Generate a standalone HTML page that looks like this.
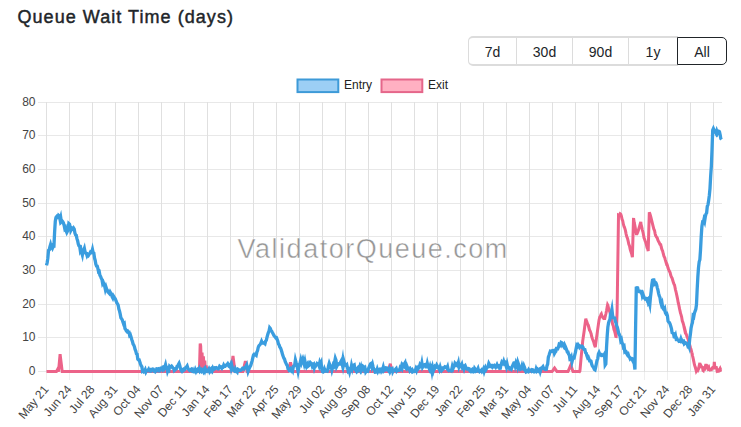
<!DOCTYPE html>
<html><head><meta charset="utf-8"><style>
html,body{margin:0;padding:0;background:#fff;width:741px;height:427px;overflow:hidden;position:relative}
.yt{text-anchor:end}
.xt{text-anchor:end}
.title{position:absolute;left:17.5px;top:4.9px;font:18px/24px "Liberation Sans",sans-serif;letter-spacing:1.05px;color:#212529;-webkit-text-stroke:0.45px #212529;white-space:nowrap}
.btns{position:absolute;left:468px;top:36px;height:30px;display:flex;font:14px "Liberation Sans",sans-serif;color:#212529}
.b{box-sizing:border-box;height:30px;line-height:29px;text-align:center;border:1px solid #dcdcdc;border-top-width:2px;border-bottom-width:2px;border-left:none;background:#fff}
.b1{border-left:1px solid #dcdcdc;border-radius:5px 0 0 5px}
.b5{border:1px solid #212529;border-top-width:1px;border-bottom-width:1px;height:28px;margin-top:1px;line-height:29px;border-radius:0 5px 5px 0;margin-left:-1px}
</style></head><body>
<div class="title">Queue Wait Time (days)</div>
<div class="btns"><div class="b b1" style="width:49px">7d</div><div class="b" style="width:56px">30d</div><div class="b" style="width:56px">90d</div><div class="b" style="width:49px">1y</div><div class="b b5" style="width:50px">All</div></div>
<svg width="741" height="427" viewBox="0 0 741 427" style="position:absolute;left:0;top:0">
<g stroke="#e0e0e0" stroke-width="1" shape-rendering="crispEdges"><line x1="38" y1="371.5" x2="721.5" y2="371.5" stroke="#e8e8e8"/><line x1="38" y1="337.5" x2="721.5" y2="337.5" stroke="#e8e8e8"/><line x1="38" y1="304.5" x2="721.5" y2="304.5" stroke="#e8e8e8"/><line x1="38" y1="270.5" x2="721.5" y2="270.5" stroke="#e8e8e8"/><line x1="38" y1="236.5" x2="721.5" y2="236.5" stroke="#e8e8e8"/><line x1="38" y1="203.5" x2="721.5" y2="203.5" stroke="#e8e8e8"/><line x1="38" y1="169.5" x2="721.5" y2="169.5" stroke="#e8e8e8"/><line x1="38" y1="135.5" x2="721.5" y2="135.5" stroke="#e8e8e8"/><line x1="38" y1="102.5" x2="721.5" y2="102.5" stroke="#e8e8e8"/><line x1="46.5" y1="102" x2="46.5" y2="372"/><line x1="46.5" y1="372" x2="46.5" y2="380" stroke="#efefef"/><line x1="69.5" y1="102" x2="69.5" y2="372"/><line x1="69.5" y1="372" x2="69.5" y2="380" stroke="#efefef"/><line x1="92.5" y1="102" x2="92.5" y2="372"/><line x1="92.5" y1="372" x2="92.5" y2="380" stroke="#efefef"/><line x1="115.5" y1="102" x2="115.5" y2="372"/><line x1="115.5" y1="372" x2="115.5" y2="380" stroke="#efefef"/><line x1="138.5" y1="102" x2="138.5" y2="372"/><line x1="138.5" y1="372" x2="138.5" y2="380" stroke="#efefef"/><line x1="161.5" y1="102" x2="161.5" y2="372"/><line x1="161.5" y1="372" x2="161.5" y2="380" stroke="#efefef"/><line x1="184.5" y1="102" x2="184.5" y2="372"/><line x1="184.5" y1="372" x2="184.5" y2="380" stroke="#efefef"/><line x1="207.5" y1="102" x2="207.5" y2="372"/><line x1="207.5" y1="372" x2="207.5" y2="380" stroke="#efefef"/><line x1="230.5" y1="102" x2="230.5" y2="372"/><line x1="230.5" y1="372" x2="230.5" y2="380" stroke="#efefef"/><line x1="253.5" y1="102" x2="253.5" y2="372"/><line x1="253.5" y1="372" x2="253.5" y2="380" stroke="#efefef"/><line x1="276.5" y1="102" x2="276.5" y2="372"/><line x1="276.5" y1="372" x2="276.5" y2="380" stroke="#efefef"/><line x1="299.5" y1="102" x2="299.5" y2="372"/><line x1="299.5" y1="372" x2="299.5" y2="380" stroke="#efefef"/><line x1="322.5" y1="102" x2="322.5" y2="372"/><line x1="322.5" y1="372" x2="322.5" y2="380" stroke="#efefef"/><line x1="345.5" y1="102" x2="345.5" y2="372"/><line x1="345.5" y1="372" x2="345.5" y2="380" stroke="#efefef"/><line x1="368.5" y1="102" x2="368.5" y2="372"/><line x1="368.5" y1="372" x2="368.5" y2="380" stroke="#efefef"/><line x1="391.5" y1="102" x2="391.5" y2="372"/><line x1="391.5" y1="372" x2="391.5" y2="380" stroke="#efefef"/><line x1="414.5" y1="102" x2="414.5" y2="372"/><line x1="414.5" y1="372" x2="414.5" y2="380" stroke="#efefef"/><line x1="437.5" y1="102" x2="437.5" y2="372"/><line x1="437.5" y1="372" x2="437.5" y2="380" stroke="#efefef"/><line x1="460.5" y1="102" x2="460.5" y2="372"/><line x1="460.5" y1="372" x2="460.5" y2="380" stroke="#efefef"/><line x1="483.5" y1="102" x2="483.5" y2="372"/><line x1="483.5" y1="372" x2="483.5" y2="380" stroke="#efefef"/><line x1="506.5" y1="102" x2="506.5" y2="372"/><line x1="506.5" y1="372" x2="506.5" y2="380" stroke="#efefef"/><line x1="529.5" y1="102" x2="529.5" y2="372"/><line x1="529.5" y1="372" x2="529.5" y2="380" stroke="#efefef"/><line x1="552.5" y1="102" x2="552.5" y2="372"/><line x1="552.5" y1="372" x2="552.5" y2="380" stroke="#efefef"/><line x1="575.5" y1="102" x2="575.5" y2="372"/><line x1="575.5" y1="372" x2="575.5" y2="380" stroke="#efefef"/><line x1="598.5" y1="102" x2="598.5" y2="372"/><line x1="598.5" y1="372" x2="598.5" y2="380" stroke="#efefef"/><line x1="621.5" y1="102" x2="621.5" y2="372"/><line x1="621.5" y1="372" x2="621.5" y2="380" stroke="#efefef"/><line x1="644.5" y1="102" x2="644.5" y2="372"/><line x1="644.5" y1="372" x2="644.5" y2="380" stroke="#efefef"/><line x1="667.5" y1="102" x2="667.5" y2="372"/><line x1="667.5" y1="372" x2="667.5" y2="380" stroke="#efefef"/><line x1="690.5" y1="102" x2="690.5" y2="372"/><line x1="690.5" y1="372" x2="690.5" y2="380" stroke="#efefef"/><line x1="713.5" y1="102" x2="713.5" y2="372"/><line x1="713.5" y1="372" x2="713.5" y2="380" stroke="#efefef"/></g>
<g fill="#444" font-family="Liberation Sans" font-size="12"><text x="35.5" y="374.7" class="yt">0</text><text x="35.5" y="340.7" class="yt">10</text><text x="35.5" y="307.7" class="yt">20</text><text x="35.5" y="273.7" class="yt">30</text><text x="35.5" y="239.7" class="yt">40</text><text x="35.5" y="206.7" class="yt">50</text><text x="35.5" y="172.7" class="yt">60</text><text x="35.5" y="138.7" class="yt">70</text><text x="35.5" y="105.7" class="yt">80</text><text transform="translate(49.2,389.6) rotate(-50)" class="xt">May 21</text><text transform="translate(72.2,389.6) rotate(-50)" class="xt">Jun 24</text><text transform="translate(95.2,389.6) rotate(-50)" class="xt">Jul 28</text><text transform="translate(118.2,389.6) rotate(-50)" class="xt">Aug 31</text><text transform="translate(141.2,389.6) rotate(-50)" class="xt">Oct 04</text><text transform="translate(164.2,389.6) rotate(-50)" class="xt">Nov 07</text><text transform="translate(187.2,389.6) rotate(-50)" class="xt">Dec 11</text><text transform="translate(210.2,389.6) rotate(-50)" class="xt">Jan 14</text><text transform="translate(233.2,389.6) rotate(-50)" class="xt">Feb 17</text><text transform="translate(256.2,389.6) rotate(-50)" class="xt">Mar 22</text><text transform="translate(279.2,389.6) rotate(-50)" class="xt">Apr 25</text><text transform="translate(302.2,389.6) rotate(-50)" class="xt">May 29</text><text transform="translate(325.2,389.6) rotate(-50)" class="xt">Jul 02</text><text transform="translate(348.1,389.6) rotate(-50)" class="xt">Aug 05</text><text transform="translate(371.1,389.6) rotate(-50)" class="xt">Sep 08</text><text transform="translate(394.1,389.6) rotate(-50)" class="xt">Oct 12</text><text transform="translate(417.1,389.6) rotate(-50)" class="xt">Nov 15</text><text transform="translate(440.1,389.6) rotate(-50)" class="xt">Dec 19</text><text transform="translate(463.1,389.6) rotate(-50)" class="xt">Jan 22</text><text transform="translate(486.1,389.6) rotate(-50)" class="xt">Feb 25</text><text transform="translate(509.1,389.6) rotate(-50)" class="xt">Mar 31</text><text transform="translate(532.1,389.6) rotate(-50)" class="xt">May 04</text><text transform="translate(555.1,389.6) rotate(-50)" class="xt">Jun 07</text><text transform="translate(578.1,389.6) rotate(-50)" class="xt">Jul 11</text><text transform="translate(601.1,389.6) rotate(-50)" class="xt">Aug 14</text><text transform="translate(624.1,389.6) rotate(-50)" class="xt">Sep 17</text><text transform="translate(647.1,389.6) rotate(-50)" class="xt">Oct 21</text><text transform="translate(670.1,389.6) rotate(-50)" class="xt">Nov 24</text><text transform="translate(693.1,389.6) rotate(-50)" class="xt">Dec 28</text><text transform="translate(716.1,389.6) rotate(-50)" class="xt">Jan 31</text></g>
<text x="237.6" y="258" font-family="Liberation Sans" font-size="27" letter-spacing="1.5" fill="#7a7a7a" fill-opacity="0.8" stroke="#fff" stroke-width="0.5" stroke-opacity="0.9">ValidatorQueue.com</text>
<path d="M46.50,371.60 L47.18,371.60 L47.85,371.60 L48.53,371.60 L49.21,371.60 L49.88,371.60 L50.56,371.60 L51.23,371.60 L51.91,371.60 L52.59,371.60 L53.26,371.60 L53.94,371.60 L54.62,371.60 L55.29,371.60 L55.97,371.60 L56.40,371.60 L56.65,371.13 L57.32,369.84 L57.50,369.50 L58.00,370.55 L58.50,371.60 L58.67,369.69 L59.35,362.30 L60.03,354.90 L60.10,354.10 L60.70,359.13 L61.38,364.76 L62.06,370.40 L62.20,371.60 L62.73,371.60 L63.41,371.60 L64.09,371.60 L64.76,371.60 L65.44,371.60 L66.11,371.60 L66.79,371.60 L67.47,371.60 L68.14,371.60 L68.82,371.60 L69.50,371.60 L70.17,371.60 L70.85,371.60 L71.53,371.60 L72.20,371.60 L72.88,371.60 L73.55,371.60 L74.23,371.60 L74.91,371.60 L75.58,371.60 L76.26,371.60 L76.94,371.60 L77.61,371.60 L78.29,371.60 L78.96,371.60 L79.64,371.60 L80.32,371.60 L80.99,371.60 L81.67,371.60 L82.35,371.60 L83.02,371.60 L83.70,371.60 L84.38,371.60 L85.05,371.60 L85.73,371.60 L86.40,371.60 L87.08,371.60 L87.76,371.60 L88.43,371.60 L89.11,371.60 L89.79,371.60 L90.46,371.60 L91.14,371.60 L91.82,371.60 L92.49,371.60 L93.17,371.60 L93.84,371.60 L94.52,371.60 L95.20,371.60 L95.87,371.60 L96.55,371.60 L97.23,371.60 L97.90,371.60 L98.58,371.60 L99.26,371.60 L99.93,371.60 L100.61,371.60 L101.28,371.60 L101.96,371.60 L102.64,371.60 L103.31,371.60 L103.99,371.60 L104.67,371.60 L105.34,371.60 L106.02,371.60 L106.70,371.60 L107.37,371.60 L108.05,371.60 L108.72,371.60 L109.40,371.60 L110.08,371.60 L110.75,371.60 L111.43,371.60 L112.11,371.60 L112.78,371.60 L113.46,371.60 L114.14,371.60 L114.81,371.60 L115.49,371.60 L116.16,371.60 L116.84,371.60 L117.52,371.60 L118.19,371.60 L118.87,371.60 L119.55,371.60 L120.22,371.60 L120.90,371.60 L121.58,371.60 L122.25,371.60 L122.93,371.60 L123.60,371.60 L124.28,371.60 L124.96,371.60 L125.63,371.60 L126.31,371.60 L126.99,371.60 L127.66,371.60 L128.34,371.60 L129.02,371.60 L129.69,371.60 L130.37,371.60 L131.04,371.60 L131.72,371.60 L132.40,371.60 L133.07,371.60 L133.75,371.60 L134.43,371.60 L135.10,371.60 L135.78,371.60 L136.45,371.60 L137.13,371.60 L137.81,371.60 L138.48,371.60 L139.16,371.60 L139.84,371.60 L140.51,371.60 L141.19,371.60 L141.87,371.60 L142.54,371.60 L143.22,371.60 L143.89,371.60 L144.57,371.60 L145.25,371.60 L145.92,371.60 L146.60,371.60 L147.28,371.60 L147.95,371.60 L148.63,371.60 L149.31,371.60 L149.98,371.60 L150.66,371.60 L151.33,371.60 L152.01,371.60 L152.69,371.60 L153.36,371.60 L154.04,371.60 L154.72,371.60 L155.39,371.60 L156.07,371.60 L156.75,371.60 L157.42,371.60 L158.10,371.60 L158.77,371.60 L159.45,371.60 L160.13,371.60 L160.80,371.60 L161.48,371.60 L162.16,371.60 L162.83,371.60 L163.51,371.60 L164.19,371.60 L164.86,371.60 L165.54,371.60 L166.21,371.60 L166.89,371.60 L167.57,371.60 L168.24,371.60 L168.92,371.60 L169.60,371.60 L170.27,371.60 L170.95,371.60 L171.63,371.60 L172.30,371.60 L172.98,371.60 L173.65,371.60 L174.33,371.60 L175.01,371.60 L175.68,371.60 L176.36,371.60 L177.04,371.60 L177.71,371.60 L178.39,371.60 L179.07,371.60 L179.74,371.60 L180.42,371.60 L181.09,371.60 L181.77,371.60 L182.45,371.60 L183.12,371.60 L183.80,371.60 L184.48,371.60 L185.15,371.60 L185.83,371.60 L186.51,371.60 L187.18,371.60 L187.86,371.60 L188.53,371.60 L189.21,371.60 L189.89,371.60 L190.56,371.60 L191.24,371.60 L191.92,371.60 L192.59,371.60 L193.27,371.60 L193.94,371.60 L194.62,371.60 L195.30,371.60 L195.97,371.60 L196.65,371.60 L197.33,371.60 L198.00,371.60 L198.68,371.60 L199.36,371.60 L199.40,371.60 L200.03,349.40 L200.20,343.50 L200.71,346.18 L201.38,370.03 L202.06,352.49 L202.74,370.47 L203.41,356.27 L204.09,369.84 L204.77,360.57 L205.44,371.53 L206.12,365.41 L206.80,370.89 L206.90,368.00 L207.47,369.87 L208.00,371.60 L208.15,371.60 L208.82,371.60 L209.50,371.60 L210.18,371.60 L210.85,371.60 L211.53,371.60 L212.21,371.60 L212.88,371.60 L213.56,371.60 L214.24,371.60 L214.91,371.60 L215.59,371.60 L216.26,371.60 L216.94,371.60 L217.62,371.60 L218.29,371.60 L218.97,371.60 L219.65,371.60 L220.32,371.60 L221.00,371.60 L221.68,371.60 L222.35,371.60 L223.03,371.60 L223.70,371.60 L224.38,371.60 L225.06,371.60 L225.73,371.60 L226.41,371.60 L227.09,371.60 L227.76,371.60 L228.44,371.60 L229.12,371.60 L229.79,371.60 L230.47,371.60 L231.00,371.60 L231.14,370.47 L231.82,365.20 L232.50,359.92 L233.00,356.00 L233.17,357.35 L233.85,362.63 L234.53,367.90 L235.00,371.60 L235.20,371.60 L235.88,371.60 L236.56,371.60 L237.23,371.60 L237.91,371.60 L238.58,371.60 L239.26,371.60 L239.94,371.60 L240.61,371.60 L241.29,371.60 L241.97,371.60 L242.64,371.60 L243.00,371.60 L243.32,370.19 L243.99,367.21 L244.67,364.22 L245.35,361.23 L245.40,361.00 L246.02,365.13 L246.70,369.62 L247.00,371.60 L247.38,371.60 L248.05,371.60 L248.73,371.60 L249.41,371.60 L250.08,371.60 L250.76,371.60 L251.43,371.60 L252.11,371.60 L252.79,371.60 L253.46,371.60 L254.14,371.60 L254.82,371.60 L255.49,371.60 L256.17,371.60 L256.85,371.60 L257.52,371.60 L258.20,371.60 L258.87,371.60 L259.55,371.60 L260.23,371.60 L260.90,371.60 L261.58,371.60 L262.26,371.60 L262.93,371.60 L263.61,371.60 L264.29,371.60 L264.96,371.60 L265.64,371.60 L266.31,371.60 L266.99,371.60 L267.67,371.60 L268.34,371.60 L269.02,371.60 L269.70,371.60 L270.37,371.60 L271.05,371.60 L271.73,371.60 L272.40,371.60 L273.08,371.60 L273.75,371.60 L274.43,371.60 L275.11,371.60 L275.78,371.60 L276.46,371.60 L277.14,371.60 L277.81,371.60 L278.49,371.60 L279.17,371.60 L279.84,371.60 L280.52,371.60 L281.19,371.60 L281.87,371.60 L282.55,371.60 L283.22,371.60 L283.90,371.60 L284.58,371.60 L285.25,371.60 L285.93,371.60 L286.61,371.60 L287.28,371.60 L287.96,371.60 L288.00,371.60 L288.63,369.29 L289.31,366.83 L289.99,364.37 L290.50,362.50 L290.66,363.09 L291.34,365.56 L292.02,368.02 L292.69,370.48 L293.00,371.60 L293.37,371.60 L294.05,371.60 L294.72,371.60 L295.40,371.60 L296.07,371.60 L296.75,371.60 L297.43,371.60 L298.10,371.60 L298.78,371.60 L299.46,371.60 L300.13,371.60 L300.81,371.60 L301.48,371.60 L302.16,371.60 L302.84,371.60 L303.51,371.60 L304.19,371.60 L304.87,371.60 L305.54,371.60 L306.22,371.60 L306.90,371.60 L307.57,371.60 L308.25,371.60 L308.92,371.60 L309.60,371.60 L310.28,371.60 L310.95,371.60 L311.63,371.60 L312.31,371.60 L312.98,371.60 L313.66,371.60 L314.34,371.60 L315.01,371.60 L315.69,371.60 L316.36,371.60 L317.04,371.60 L317.72,371.60 L318.39,371.60 L319.07,371.60 L319.75,371.60 L320.42,371.60 L321.10,371.60 L321.78,371.60 L322.45,371.60 L323.13,371.60 L323.80,371.60 L324.48,371.60 L325.16,371.60 L325.83,371.60 L326.51,371.60 L327.19,371.60 L327.86,371.60 L328.54,371.60 L329.22,371.60 L329.89,371.60 L330.57,371.60 L331.24,371.60 L331.92,371.60 L332.60,371.60 L333.27,371.60 L333.95,371.60 L334.63,371.60 L335.30,371.60 L335.98,371.60 L336.66,371.60 L337.33,371.60 L338.01,371.60 L338.68,371.60 L339.36,371.60 L340.04,371.60 L340.71,371.60 L341.39,371.60 L342.07,371.60 L342.74,371.60 L343.42,371.60 L344.10,371.60 L344.77,371.60 L345.45,371.60 L346.12,371.60 L346.80,371.60 L347.48,371.60 L348.15,371.60 L348.83,371.60 L349.51,371.60 L350.18,371.60 L350.86,371.60 L351.54,371.60 L352.21,371.60 L352.89,371.60 L353.56,371.60 L354.24,371.60 L354.92,371.60 L355.59,371.60 L356.27,371.60 L356.95,371.60 L357.62,371.60 L358.30,371.60 L358.97,371.60 L359.65,371.60 L360.33,371.60 L361.00,371.60 L361.68,371.60 L362.36,371.60 L363.03,371.60 L363.71,371.60 L364.39,371.60 L365.06,371.60 L365.74,371.60 L366.41,371.60 L367.09,371.60 L367.77,371.60 L368.44,371.60 L369.12,371.60 L369.80,371.60 L370.47,371.60 L371.15,371.60 L371.83,371.60 L372.50,371.60 L373.18,371.60 L373.85,371.60 L374.53,371.60 L375.21,371.60 L375.88,371.60 L376.56,371.60 L377.24,371.60 L377.91,371.60 L378.59,371.60 L379.27,371.60 L379.94,371.60 L380.62,371.60 L381.29,371.60 L381.97,371.60 L382.65,371.60 L383.32,371.60 L384.00,371.60 L384.68,371.60 L385.35,371.60 L386.03,371.60 L386.71,371.60 L387.38,371.60 L388.00,371.60 L388.06,371.40 L388.73,369.08 L389.41,366.75 L390.09,364.43 L390.30,363.70 L390.76,365.85 L391.44,369.00 L392.00,371.60 L392.12,371.60 L392.79,371.60 L393.47,371.60 L394.15,371.60 L394.82,371.60 L395.50,371.60 L396.17,371.60 L396.85,371.60 L397.53,371.60 L398.20,371.60 L398.88,371.60 L399.56,371.60 L400.23,371.60 L400.91,371.60 L401.59,371.60 L402.26,371.60 L402.94,371.60 L403.61,371.60 L404.29,371.60 L404.97,371.60 L405.64,371.60 L406.32,371.60 L407.00,371.60 L407.67,371.60 L408.35,371.60 L409.03,371.60 L409.70,371.60 L410.38,371.60 L411.05,371.60 L411.73,371.60 L412.41,371.60 L413.08,371.60 L413.76,371.60 L414.44,371.60 L415.11,371.60 L415.79,371.60 L416.46,371.60 L417.14,371.60 L417.82,371.60 L418.49,371.60 L419.17,371.60 L419.85,371.60 L420.52,371.60 L421.20,371.60 L421.88,371.60 L422.55,371.60 L423.23,371.60 L423.90,371.60 L424.58,371.60 L425.26,371.60 L425.93,371.60 L426.61,371.60 L427.29,371.60 L427.96,371.60 L428.64,371.60 L429.32,371.60 L429.99,371.60 L430.67,371.60 L431.34,371.60 L432.02,371.60 L432.70,371.60 L433.37,371.60 L434.05,371.60 L434.73,371.60 L435.40,371.60 L436.08,371.60 L436.76,371.60 L437.43,371.60 L438.11,371.60 L438.78,371.60 L439.46,371.60 L440.14,371.60 L440.81,371.60 L441.49,371.60 L442.17,371.60 L442.84,371.60 L443.52,371.60 L444.20,371.60 L444.87,371.60 L445.55,371.60 L446.22,371.60 L446.90,371.60 L447.58,371.60 L448.25,371.60 L448.93,371.60 L449.61,371.60 L450.28,371.60 L450.96,371.60 L451.64,371.60 L452.31,371.60 L452.99,371.60 L453.66,371.60 L454.34,371.60 L455.02,371.60 L455.69,371.60 L456.37,371.60 L457.05,371.60 L457.72,371.60 L458.40,371.60 L459.08,371.60 L459.75,371.60 L460.43,371.60 L461.10,371.60 L461.78,371.60 L462.46,371.60 L463.13,371.60 L463.81,371.60 L464.49,371.60 L465.16,371.60 L465.84,371.60 L466.52,371.60 L467.19,371.60 L467.87,371.60 L468.54,371.60 L469.22,371.60 L469.90,371.60 L470.57,371.60 L471.25,371.60 L471.93,371.60 L472.60,371.60 L473.28,371.60 L473.95,371.60 L474.63,371.60 L475.31,371.60 L475.98,371.60 L476.66,371.60 L477.34,371.60 L478.01,371.60 L478.69,371.60 L479.37,371.60 L480.04,371.60 L480.72,371.60 L481.39,371.60 L482.07,371.60 L482.75,371.60 L483.42,371.60 L484.10,371.60 L484.78,371.60 L485.45,371.60 L486.13,371.60 L486.81,371.60 L487.48,371.60 L488.16,371.60 L488.83,371.60 L489.51,371.60 L490.19,371.60 L490.86,371.60 L491.54,371.60 L492.22,371.60 L492.89,371.60 L493.57,371.60 L494.25,371.60 L494.92,371.60 L495.60,371.60 L496.27,371.60 L496.95,371.60 L497.63,371.60 L498.30,371.60 L498.98,371.60 L499.66,371.60 L500.33,371.60 L501.01,371.60 L501.69,371.60 L502.36,371.60 L503.04,371.60 L503.71,371.60 L504.39,371.60 L505.07,371.60 L505.74,371.60 L506.42,371.60 L507.10,371.60 L507.77,371.60 L508.45,371.60 L509.13,371.60 L509.80,371.60 L510.48,371.60 L511.15,371.60 L511.83,371.60 L512.51,371.60 L513.18,371.60 L513.86,371.60 L514.54,371.60 L515.21,371.60 L515.89,371.60 L516.57,371.60 L517.24,371.60 L517.92,371.60 L518.59,371.60 L519.27,371.60 L519.95,371.60 L520.62,371.60 L521.30,371.60 L521.98,371.60 L522.65,371.60 L523.33,371.60 L524.01,371.60 L524.68,371.60 L525.36,371.60 L526.03,371.60 L526.71,371.60 L527.39,371.60 L528.06,371.60 L528.74,371.60 L529.42,371.60 L530.09,371.60 L530.77,371.60 L531.44,371.60 L532.12,371.60 L532.80,371.60 L533.47,371.60 L534.15,371.60 L534.83,371.60 L535.50,371.60 L536.18,371.60 L536.86,371.60 L537.53,371.60 L538.21,371.60 L538.88,371.60 L539.56,371.60 L540.24,371.60 L540.91,371.60 L541.59,371.60 L542.27,371.60 L542.94,371.60 L543.62,371.60 L544.30,371.60 L544.97,371.60 L545.65,371.60 L546.32,371.60 L547.00,371.60 L547.68,371.60 L548.35,371.60 L549.03,371.60 L549.71,371.60 L550.38,371.60 L551.06,371.60 L551.74,371.60 L552.00,371.60 L552.41,371.03 L553.09,370.09 L553.76,369.16 L554.44,368.22 L554.60,368.00 L555.12,368.78 L555.79,369.79 L556.47,370.80 L557.00,371.60 L557.15,371.60 L557.82,371.60 L558.50,371.60 L559.18,371.60 L559.85,371.60 L560.53,371.60 L561.20,371.60 L561.88,371.60 L562.56,371.60 L563.23,371.60 L563.91,371.60 L564.59,371.60 L565.26,371.60 L565.94,371.60 L566.62,371.60 L567.29,371.60 L567.97,371.60 L568.00,371.60 L568.64,370.08 L569.32,368.49 L570.00,366.89 L570.67,365.30 L570.80,365.00 L571.35,366.65 L572.03,368.68 L572.70,370.71 L573.00,371.60 L573.38,371.60 L574.06,371.60 L574.73,371.60 L575.41,371.60 L576.08,371.60 L576.76,371.60 L577.44,371.60 L578.11,371.60 L578.79,371.60 L579.47,371.66 L579.90,370.97 L580.14,368.67 L580.82,360.87 L581.49,353.73 L582.17,347.37 L582.70,341.15 L582.85,340.15 L583.52,335.42 L584.20,330.68 L584.88,325.36 L585.55,320.46 L585.80,318.68 L586.23,320.04 L586.91,321.88 L587.58,323.99 L588.26,325.32 L588.93,327.94 L589.00,327.84 L589.61,330.13 L590.29,331.27 L590.96,333.44 L591.10,333.65 L591.64,336.31 L592.32,338.53 L592.99,340.20 L593.67,341.82 L594.35,344.49 L595.02,346.47 L595.30,346.99 L595.70,343.68 L596.37,338.85 L597.05,334.13 L597.73,329.09 L598.40,324.36 L599.08,319.77 L599.20,319.31 L599.76,316.96 L600.43,316.33 L601.11,314.24 L601.30,313.97 L601.79,315.74 L602.46,316.53 L603.14,318.13 L603.81,318.59 L604.49,319.10 L604.50,319.64 L605.17,316.74 L605.84,314.00 L606.52,310.83 L607.20,306.89 L607.60,304.88 L607.87,305.36 L608.55,308.39 L609.23,310.06 L609.80,311.91 L609.90,312.13 L610.58,314.83 L611.25,318.50 L611.93,320.43 L612.61,324.33 L613.28,325.81 L613.96,329.62 L614.64,331.30 L615.31,333.86 L615.99,337.56 L616.10,337.34 L616.67,323.72 L617.10,311.96 L617.34,294.96 L618.02,248.91 L618.50,215.30 L618.69,215.41 L619.37,214.94 L620.05,213.75 L620.72,214.21 L620.80,214.29 L621.40,216.18 L622.08,219.36 L622.75,220.93 L623.43,224.44 L624.11,226.61 L624.78,228.14 L625.46,230.67 L626.13,234.08 L626.81,236.83 L627.49,238.31 L628.16,241.16 L628.84,244.26 L629.52,245.99 L630.19,249.48 L630.87,251.48 L631.55,253.40 L632.22,256.35 L632.40,257.30 L632.90,239.47 L633.50,218.45 L633.57,218.10 L634.25,222.68 L634.93,225.74 L635.60,229.80 L636.28,233.45 L636.60,234.89 L636.96,233.77 L637.63,232.30 L638.31,230.50 L638.98,228.24 L639.66,225.91 L640.34,223.50 L640.80,221.78 L641.01,224.05 L641.69,226.77 L642.37,230.06 L643.04,232.47 L643.72,235.96 L644.00,237.77 L644.40,238.85 L645.07,240.74 L645.75,242.54 L646.42,244.91 L647.10,247.76 L647.78,249.25 L648.20,251.06 L648.45,241.96 L649.13,218.46 L649.30,212.33 L649.81,213.45 L650.48,215.54 L651.16,218.39 L651.84,221.09 L652.51,223.80 L653.19,226.60 L653.86,229.18 L654.54,230.48 L655.22,234.06 L655.60,235.44 L655.89,236.11 L656.57,237.08 L657.25,238.04 L657.92,240.23 L658.60,241.54 L659.28,242.75 L659.95,244.45 L660.63,245.04 L660.80,245.02 L661.30,247.27 L661.98,249.76 L662.66,251.07 L663.33,253.98 L664.01,256.38 L664.69,257.55 L665.36,260.21 L666.04,262.46 L666.10,262.35 L666.72,263.65 L667.39,265.53 L668.07,268.05 L668.74,269.92 L669.42,271.28 L670.10,272.58 L670.77,275.40 L671.45,277.17 L672.13,278.24 L672.80,280.54 L673.48,282.81 L674.16,284.61 L674.50,285.03 L674.83,286.53 L675.51,289.86 L676.18,292.48 L676.86,295.66 L677.54,298.83 L678.21,302.73 L678.89,305.44 L679.57,308.90 L680.24,311.85 L680.50,313.22 L680.92,314.35 L681.60,316.84 L682.27,320.82 L682.95,322.59 L683.62,324.85 L684.30,328.23 L684.80,330.40 L684.98,330.05 L685.65,332.72 L686.33,334.41 L687.01,336.70 L687.68,338.04 L688.36,340.11 L689.00,343.39 L689.04,343.33 L689.71,345.09 L690.39,347.49 L691.06,349.36 L691.74,352.37 L692.10,353.10 L692.42,355.29 L693.09,358.17 L693.77,361.37 L694.45,364.70 L695.12,366.83 L695.30,367.35 L695.80,369.13 L696.30,371.10 L696.47,370.81 L697.15,369.69 L697.83,370.41 L698.50,369.08 L699.18,365.91 L699.86,362.94 L700.53,366.51 L700.60,367.85 L701.21,366.08 L701.89,367.32 L702.56,367.44 L703.00,370.41 L703.24,370.59 L703.91,367.80 L704.59,370.42 L705.27,366.84 L705.94,364.18 L706.62,366.31 L706.90,364.37 L707.30,366.79 L707.97,368.49 L708.65,367.64 L709.00,370.67 L709.33,369.16 L710.00,370.07 L710.68,369.85 L711.35,369.76 L712.03,367.97 L712.71,367.54 L713.38,369.32 L714.06,365.58 L714.30,361.89 L714.74,366.47 L715.41,368.82 L716.09,366.28 L716.77,369.23 L717.00,370.43 L717.44,369.98 L718.12,371.24 L718.79,371.12 L719.47,369.78 L720.15,368.54 L720.82,370.12 L721.50,369.77" fill="none" stroke="#ec6389" stroke-width="3" stroke-linejoin="miter" stroke-miterlimit="3"/>
<path d="M46.50,265.33 L47.18,262.56 L47.85,258.17 L48.53,250.43 L49.21,249.84 L49.88,246.84 L50.56,244.55 L51.23,247.11 L51.91,246.18 L52.59,247.95 L53.26,246.39 L53.94,246.29 L54.62,231.91 L55.29,221.30 L55.97,217.36 L56.65,216.56 L57.32,217.24 L58.00,217.59 L58.67,215.33 L59.35,215.87 L60.03,219.39 L60.70,217.19 L61.38,221.65 L62.06,220.86 L62.73,221.69 L63.41,222.97 L64.09,225.19 L64.76,228.61 L65.44,227.69 L66.11,230.71 L66.79,232.42 L67.47,231.07 L68.14,228.58 L68.82,223.58 L69.50,224.19 L70.17,226.74 L70.85,230.53 L71.53,229.30 L72.20,228.41 L72.88,228.98 L73.55,228.02 L74.23,229.03 L74.91,233.05 L75.58,234.84 L76.26,235.26 L76.94,238.67 L77.61,240.63 L78.29,244.11 L78.96,245.71 L79.64,246.08 L80.32,250.67 L80.99,249.36 L81.67,252.45 L82.35,254.89 L83.02,250.83 L83.70,250.34 L84.38,248.41 L85.05,251.82 L85.73,253.20 L86.40,253.48 L87.08,255.65 L87.76,254.53 L88.43,255.37 L89.11,254.28 L89.79,253.46 L90.46,252.10 L91.14,252.67 L91.82,252.19 L92.49,249.51 L93.17,252.77 L93.84,253.05 L94.52,258.07 L95.20,260.44 L95.87,264.33 L96.55,266.04 L97.23,266.15 L97.90,268.68 L98.58,271.91 L99.26,271.60 L99.93,275.42 L100.61,276.46 L101.28,278.32 L101.96,279.46 L102.64,283.53 L103.31,282.47 L103.99,284.29 L104.67,286.20 L105.34,289.40 L106.02,287.13 L106.70,289.20 L107.37,290.26 L108.05,292.20 L108.72,292.64 L109.40,293.48 L110.08,291.94 L110.75,293.13 L111.43,293.80 L112.11,296.79 L112.78,298.07 L113.46,296.00 L114.14,297.09 L114.81,298.30 L115.49,299.30 L116.16,301.25 L116.84,302.91 L117.52,303.92 L118.19,305.19 L118.87,309.02 L119.55,311.09 L120.22,314.09 L120.90,317.82 L121.58,318.64 L122.25,319.80 L122.93,322.00 L123.60,324.05 L124.28,323.50 L124.96,328.53 L125.63,329.33 L126.31,330.80 L126.99,331.61 L127.66,331.17 L128.34,332.30 L129.02,332.29 L129.69,335.41 L130.37,334.84 L131.04,336.89 L131.72,339.45 L132.40,341.31 L133.07,344.01 L133.75,344.95 L134.43,346.78 L135.10,349.38 L135.78,351.05 L136.45,353.78 L137.13,354.22 L137.81,359.17 L138.48,359.91 L139.16,359.87 L139.84,361.99 L140.51,364.08 L141.19,365.87 L141.87,366.68 L142.54,371.17 L143.22,370.68 L143.89,371.71 L144.57,371.01 L145.25,369.70 L145.92,371.87 L146.60,370.51 L147.28,370.47 L147.95,370.43 L148.63,369.32 L149.31,370.86 L149.98,371.08 L150.66,369.98 L151.33,370.53 L152.01,369.37 L152.69,369.06 L153.36,369.20 L154.04,370.82 L154.72,370.53 L155.39,371.54 L156.07,370.85 L156.75,368.86 L157.42,368.98 L158.10,368.79 L158.77,370.93 L159.45,371.03 L160.13,369.82 L160.80,368.51 L161.48,368.84 L162.16,369.63 L162.83,367.09 L163.51,366.88 L164.19,368.47 L164.86,367.03 L165.54,364.79 L166.21,367.85 L166.89,367.64 L167.57,371.17 L168.24,369.43 L168.92,370.09 L169.60,366.46 L170.27,367.14 L170.95,366.78 L171.63,366.17 L172.30,366.96 L172.98,368.08 L173.65,368.47 L174.33,370.59 L175.01,369.95 L175.68,368.88 L176.36,368.76 L177.04,366.42 L177.71,366.06 L178.39,364.47 L179.07,363.31 L179.74,365.38 L180.42,368.27 L181.09,370.43 L181.77,371.21 L182.45,369.94 L183.12,370.44 L183.80,369.27 L184.48,369.65 L185.15,368.92 L185.83,367.39 L186.51,367.02 L187.18,366.04 L187.86,368.17 L188.53,369.16 L189.21,370.05 L189.89,370.65 L190.56,370.05 L191.24,369.40 L191.92,370.43 L192.59,369.67 L193.27,371.61 L193.94,371.74 L194.62,371.71 L195.30,369.73 L195.97,371.35 L196.65,369.94 L197.33,369.37 L198.00,370.97 L198.68,370.43 L199.36,368.87 L200.03,370.97 L200.71,370.12 L201.38,371.00 L202.06,369.59 L202.74,370.12 L203.41,371.46 L204.09,369.85 L204.77,371.31 L205.44,369.24 L206.12,371.08 L206.80,371.44 L207.47,370.69 L208.15,370.45 L208.82,369.17 L209.50,371.15 L210.18,369.76 L210.85,370.83 L211.53,369.32 L212.21,370.51 L212.88,368.29 L213.56,369.60 L214.24,369.28 L214.91,367.91 L215.59,368.12 L216.26,367.69 L216.94,368.10 L217.62,368.81 L218.29,368.91 L218.97,367.91 L219.65,366.24 L220.32,366.86 L221.00,367.54 L221.68,368.19 L222.35,366.88 L223.03,367.01 L223.70,365.18 L224.38,366.40 L225.06,366.39 L225.73,365.34 L226.41,365.17 L227.09,364.42 L227.76,363.58 L228.44,364.73 L229.12,366.39 L229.79,366.89 L230.47,365.24 L231.14,368.21 L231.82,365.48 L232.50,368.42 L233.17,369.78 L233.85,370.65 L234.53,371.08 L235.20,369.31 L235.88,371.28 L236.56,371.10 L237.23,371.93 L237.91,369.28 L238.58,369.70 L239.26,370.23 L239.94,370.24 L240.61,370.24 L241.29,369.90 L241.97,368.93 L242.64,368.20 L243.32,368.16 L243.99,368.83 L244.67,367.61 L245.35,367.23 L246.02,366.33 L246.70,365.02 L247.38,368.39 L248.05,371.56 L248.73,369.71 L249.41,367.89 L250.08,366.59 L250.76,365.38 L251.43,362.96 L252.11,360.92 L252.79,357.85 L253.46,355.22 L254.14,354.11 L254.82,354.14 L255.49,354.78 L256.17,355.34 L256.85,352.06 L257.52,350.76 L258.20,347.45 L258.87,345.89 L259.55,345.05 L260.23,344.32 L260.90,343.09 L261.58,341.28 L262.26,342.82 L262.93,343.05 L263.61,342.88 L264.29,343.28 L264.96,343.85 L265.64,341.07 L266.31,340.33 L266.99,337.27 L267.67,334.75 L268.34,332.69 L269.02,331.19 L269.70,327.70 L270.37,328.54 L271.05,330.59 L271.73,331.19 L272.40,332.54 L273.08,333.76 L273.75,335.11 L274.43,336.22 L275.11,336.86 L275.78,337.85 L276.46,337.66 L277.14,339.38 L277.81,341.34 L278.49,344.07 L279.17,344.94 L279.84,347.22 L280.52,347.85 L281.19,349.75 L281.87,351.99 L282.55,354.62 L283.22,356.48 L283.90,358.27 L284.58,359.32 L285.25,361.60 L285.93,363.16 L286.61,364.66 L287.28,365.46 L287.96,368.50 L288.63,368.61 L289.31,370.87 L289.99,370.98 L290.66,369.33 L291.34,370.40 L292.02,369.01 L292.69,370.43 L293.37,366.54 L294.05,366.02 L294.72,364.76 L295.40,360.01 L296.07,362.51 L296.75,364.75 L297.43,367.87 L298.10,371.40 L298.78,367.77 L299.46,364.25 L300.13,362.87 L300.81,359.83 L301.48,362.53 L302.16,360.45 L302.84,358.73 L303.51,361.03 L304.19,363.81 L304.87,361.13 L305.54,364.64 L306.22,366.37 L306.90,364.49 L307.57,363.58 L308.25,366.09 L308.92,365.54 L309.60,363.56 L310.28,362.46 L310.95,363.11 L311.63,363.49 L312.31,366.00 L312.98,364.70 L313.66,364.09 L314.34,367.59 L315.01,365.52 L315.69,365.98 L316.36,364.78 L317.04,363.57 L317.72,364.08 L318.39,363.67 L319.07,365.68 L319.75,362.61 L320.42,364.41 L321.10,362.86 L321.78,369.21 L322.45,371.61 L323.13,371.97 L323.80,371.40 L324.48,369.08 L325.16,370.88 L325.83,370.51 L326.51,371.13 L327.19,371.34 L327.86,369.67 L328.54,365.90 L329.22,363.36 L329.89,365.19 L330.57,367.08 L331.24,366.80 L331.92,370.00 L332.60,367.48 L333.27,364.79 L333.95,365.68 L334.63,361.88 L335.30,358.39 L335.98,360.25 L336.66,366.53 L337.33,365.17 L338.01,364.62 L338.68,363.95 L339.36,364.15 L340.04,364.10 L340.71,361.83 L341.39,360.60 L342.07,363.58 L342.74,359.80 L343.42,365.25 L344.10,362.06 L344.77,364.50 L345.45,364.95 L346.12,365.62 L346.80,364.89 L347.48,367.66 L348.15,370.76 L348.83,369.90 L349.51,372.20 L350.18,369.38 L350.86,369.54 L351.54,365.55 L352.21,368.28 L352.89,365.47 L353.56,365.29 L354.24,364.92 L354.92,369.00 L355.59,369.94 L356.27,370.98 L356.95,369.14 L357.62,368.24 L358.30,370.46 L358.97,369.66 L359.65,367.23 L360.33,369.41 L361.00,367.17 L361.68,370.17 L362.36,368.95 L363.03,366.31 L363.71,366.79 L364.39,369.52 L365.06,368.49 L365.74,371.92 L366.41,371.00 L367.09,371.04 L367.77,371.19 L368.44,368.88 L369.12,367.12 L369.80,365.29 L370.47,363.86 L371.15,363.45 L371.83,366.49 L372.50,364.40 L373.18,367.25 L373.85,369.07 L374.53,369.54 L375.21,372.14 L375.88,372.06 L376.56,371.41 L377.24,369.25 L377.91,371.36 L378.59,369.98 L379.27,369.54 L379.94,370.85 L380.62,369.19 L381.29,368.97 L381.97,370.76 L382.65,369.55 L383.32,367.13 L384.00,369.83 L384.68,368.78 L385.35,369.35 L386.03,367.83 L386.71,367.92 L387.38,369.80 L388.06,370.07 L388.73,370.94 L389.41,369.13 L390.09,371.59 L390.76,370.15 L391.44,368.66 L392.12,368.45 L392.79,371.58 L393.47,370.18 L394.15,370.08 L394.82,370.30 L395.50,369.21 L396.17,368.49 L396.85,370.90 L397.53,370.15 L398.20,369.96 L398.88,370.37 L399.56,370.18 L400.23,367.65 L400.91,368.42 L401.59,365.91 L402.26,367.69 L402.94,364.93 L403.61,365.58 L404.29,364.08 L404.97,362.95 L405.64,367.98 L406.32,368.67 L407.00,366.34 L407.67,368.00 L408.35,368.51 L409.03,368.33 L409.70,370.39 L410.38,369.24 L411.05,370.55 L411.73,371.38 L412.41,370.25 L413.08,371.59 L413.76,371.17 L414.44,371.43 L415.11,370.92 L415.79,368.89 L416.46,370.54 L417.14,368.14 L417.82,368.74 L418.49,367.08 L419.17,367.44 L419.85,365.09 L420.52,366.31 L421.20,366.63 L421.88,363.23 L422.55,367.22 L423.23,366.11 L423.90,365.73 L424.58,364.75 L425.26,364.52 L425.93,366.71 L426.61,366.68 L427.29,363.50 L427.96,366.36 L428.64,366.66 L429.32,368.57 L429.99,366.45 L430.67,369.16 L431.34,367.70 L432.02,371.54 L432.70,367.76 L433.37,370.53 L434.05,368.25 L434.73,366.75 L435.40,367.72 L436.08,366.89 L436.76,365.10 L437.43,366.24 L438.11,367.69 L438.78,367.75 L439.46,369.47 L440.14,367.17 L440.81,369.52 L441.49,370.66 L442.17,369.82 L442.84,368.15 L443.52,368.48 L444.20,367.45 L444.87,366.77 L445.55,367.06 L446.22,367.45 L446.90,368.33 L447.58,366.70 L448.25,369.77 L448.93,370.60 L449.61,370.26 L450.28,370.29 L450.96,370.79 L451.64,369.80 L452.31,366.56 L452.99,368.65 L453.66,366.88 L454.34,366.10 L455.02,363.26 L455.69,364.04 L456.37,364.86 L457.05,363.92 L457.72,365.13 L458.40,362.76 L459.08,366.89 L459.75,365.37 L460.43,364.86 L461.10,365.88 L461.78,364.45 L462.46,367.69 L463.13,367.01 L463.81,368.81 L464.49,366.21 L465.16,365.56 L465.84,367.26 L466.52,368.63 L467.19,369.07 L467.87,368.82 L468.54,368.50 L469.22,368.76 L469.90,370.95 L470.57,371.38 L471.25,370.33 L471.93,369.70 L472.60,371.61 L473.28,371.82 L473.95,370.91 L474.63,368.30 L475.31,369.20 L475.98,371.40 L476.66,371.13 L477.34,369.98 L478.01,368.56 L478.69,371.05 L479.37,371.66 L480.04,370.80 L480.72,370.84 L481.39,370.14 L482.07,371.48 L482.75,370.67 L483.42,369.12 L484.10,371.54 L484.78,369.40 L485.45,367.65 L486.13,369.20 L486.81,367.95 L487.48,367.28 L488.16,366.04 L488.83,363.47 L489.51,364.74 L490.19,366.70 L490.86,366.71 L491.54,365.99 L492.22,366.96 L492.89,365.88 L493.57,366.43 L494.25,365.60 L494.92,366.43 L495.60,367.30 L496.27,365.99 L496.95,364.68 L497.63,366.25 L498.30,365.62 L498.98,365.67 L499.66,368.18 L500.33,368.13 L501.01,364.89 L501.69,362.75 L502.36,363.95 L503.04,363.35 L503.71,361.35 L504.39,363.52 L505.07,362.91 L505.74,364.93 L506.42,367.05 L507.10,364.17 L507.77,367.19 L508.45,367.96 L509.13,367.78 L509.80,369.14 L510.48,368.97 L511.15,369.44 L511.83,367.65 L512.51,366.00 L513.18,364.57 L513.86,362.82 L514.54,362.68 L515.21,365.60 L515.89,363.01 L516.57,364.88 L517.24,366.87 L517.92,362.47 L518.59,364.38 L519.27,368.66 L519.95,369.52 L520.62,369.27 L521.30,368.67 L521.98,366.12 L522.65,368.59 L523.33,369.01 L524.01,366.08 L524.68,367.67 L525.36,370.77 L526.03,371.94 L526.71,371.58 L527.39,370.85 L528.06,371.41 L528.74,369.86 L529.42,370.99 L530.09,370.37 L530.77,370.06 L531.44,370.85 L532.12,369.67 L532.80,369.90 L533.47,371.54 L534.15,371.97 L534.83,371.70 L535.50,371.59 L536.18,368.98 L536.86,370.62 L537.53,369.59 L538.21,370.61 L538.88,369.47 L539.56,369.09 L540.24,371.55 L540.91,369.30 L541.59,367.97 L542.27,367.59 L542.94,366.76 L543.62,368.44 L544.30,368.73 L544.97,369.24 L545.65,369.59 L546.32,369.46 L547.00,365.73 L547.68,364.14 L548.35,357.03 L549.03,355.30 L549.71,352.98 L550.38,351.23 L551.06,351.48 L551.74,351.41 L552.41,350.61 L553.09,350.85 L553.76,350.53 L554.44,353.48 L555.12,352.27 L555.79,351.52 L556.47,348.29 L557.15,348.26 L557.82,348.56 L558.50,346.90 L559.18,344.26 L559.85,344.62 L560.53,345.31 L561.20,342.37 L561.88,342.73 L562.56,343.69 L563.23,345.76 L563.91,346.83 L564.59,344.87 L565.26,346.31 L565.94,348.10 L566.62,349.84 L567.29,352.02 L567.97,352.08 L568.64,354.15 L569.32,355.06 L570.00,359.49 L570.67,359.34 L571.35,357.64 L572.03,361.58 L572.70,358.99 L573.38,358.50 L574.06,358.30 L574.73,355.11 L575.41,352.39 L576.08,348.78 L576.76,345.39 L577.44,346.15 L578.11,344.78 L578.79,345.82 L579.47,347.16 L580.14,346.13 L580.82,346.57 L581.49,347.11 L582.17,346.37 L582.85,346.96 L583.52,348.79 L584.20,349.47 L584.88,349.58 L585.55,352.66 L586.23,353.23 L586.91,355.83 L587.58,357.68 L588.26,357.06 L588.93,358.80 L589.61,360.66 L590.29,360.61 L590.96,361.08 L591.64,364.15 L592.32,365.94 L592.99,366.75 L593.67,367.68 L594.35,369.47 L595.02,369.89 L595.70,367.03 L596.37,363.59 L597.05,360.34 L597.73,358.81 L598.40,354.08 L599.08,352.58 L599.76,354.19 L600.43,354.80 L601.11,355.35 L601.79,354.77 L602.46,355.43 L603.14,355.15 L603.81,355.37 L604.49,354.16 L605.17,365.04 L605.84,364.03 L606.52,347.60 L607.20,335.80 L607.87,327.09 L608.55,322.95 L609.23,320.68 L609.90,319.89 L610.58,313.70 L611.25,312.98 L611.93,309.46 L612.61,315.51 L613.28,317.77 L613.96,317.83 L614.64,317.90 L615.31,321.35 L615.99,322.88 L616.67,325.80 L617.34,327.39 L618.02,330.24 L618.69,333.33 L619.37,334.53 L620.05,336.47 L620.72,340.53 L621.40,339.52 L622.08,343.11 L622.75,343.80 L623.43,347.01 L624.11,346.39 L624.78,351.48 L625.46,350.89 L626.13,351.57 L626.81,353.86 L627.49,355.03 L628.16,354.25 L628.84,356.48 L629.52,357.18 L630.19,358.93 L630.87,358.28 L631.55,358.40 L632.22,358.69 L632.90,361.09 L633.57,362.29 L634.25,363.63 L634.93,369.56 L635.60,326.92 L636.28,287.92 L636.96,287.74 L637.63,287.92 L638.31,290.88 L638.98,291.51 L639.66,291.34 L640.34,291.23 L641.01,292.49 L641.69,292.12 L642.37,295.83 L643.04,294.42 L643.72,296.41 L644.40,298.00 L645.07,298.89 L645.75,298.36 L646.42,298.51 L647.10,300.27 L647.78,299.46 L648.45,302.96 L649.13,301.94 L649.81,304.62 L650.48,297.13 L651.16,291.29 L651.84,284.58 L652.51,280.13 L653.19,279.87 L653.86,279.84 L654.54,283.23 L655.22,282.21 L655.89,282.74 L656.57,284.37 L657.25,287.60 L657.92,289.97 L658.60,293.32 L659.28,295.97 L659.95,297.40 L660.63,302.11 L661.30,304.39 L661.98,302.88 L662.66,307.16 L663.33,308.81 L664.01,309.70 L664.69,308.61 L665.36,312.65 L666.04,313.92 L666.72,313.60 L667.39,315.62 L668.07,321.22 L668.74,322.13 L669.42,322.61 L670.10,324.08 L670.77,326.26 L671.45,328.64 L672.13,332.73 L672.80,333.12 L673.48,333.46 L674.16,336.99 L674.83,337.24 L675.51,335.55 L676.18,338.97 L676.86,338.57 L677.54,339.91 L678.21,340.14 L678.89,341.17 L679.57,340.94 L680.24,341.30 L680.92,339.03 L681.60,341.08 L682.27,340.63 L682.95,341.86 L683.62,341.37 L684.30,343.72 L684.98,343.13 L685.65,342.69 L686.33,343.23 L687.01,343.54 L687.68,345.56 L688.36,344.58 L689.04,346.46 L689.71,339.11 L690.39,334.31 L691.06,328.22 L691.74,324.85 L692.42,322.69 L693.09,316.06 L693.77,316.77 L694.45,313.06 L695.12,311.13 L695.80,309.23 L696.47,304.81 L697.15,289.97 L697.83,277.06 L698.50,267.66 L699.18,261.75 L699.86,259.67 L700.53,249.98 L701.21,236.68 L701.89,226.38 L702.56,222.25 L703.24,222.55 L703.91,219.61 L704.59,221.44 L705.27,216.91 L705.94,214.05 L706.62,212.86 L707.30,206.27 L707.97,204.87 L708.65,200.51 L709.33,195.42 L710.00,188.34 L710.68,175.74 L711.35,166.21 L712.03,149.59 L712.71,130.04 L713.38,128.58 L714.06,130.11 L714.74,130.74 L715.41,131.92 L716.09,133.25 L716.77,131.01 L717.44,132.83 L718.12,131.01 L718.79,131.18 L719.47,131.72 L720.15,134.75 L720.82,138.67 L721.50,139.59" fill="none" stroke="#3a9ddf" stroke-width="3.3" stroke-linejoin="miter" stroke-miterlimit="10"/>
<rect x="297.5" y="79.5" width="40.8" height="12.6" fill="#9ccff5" stroke="#3d9ad8" stroke-width="2"/>
<text x="344" y="88.6" font-family="Liberation Sans" font-size="12" fill="#222">Entry</text>
<rect x="381.5" y="79.5" width="40.8" height="12.6" fill="#ffb0c2" stroke="#e5668a" stroke-width="2"/>
<text x="428" y="88.6" font-family="Liberation Sans" font-size="12" fill="#222">Exit</text>
</svg>
</body></html>
